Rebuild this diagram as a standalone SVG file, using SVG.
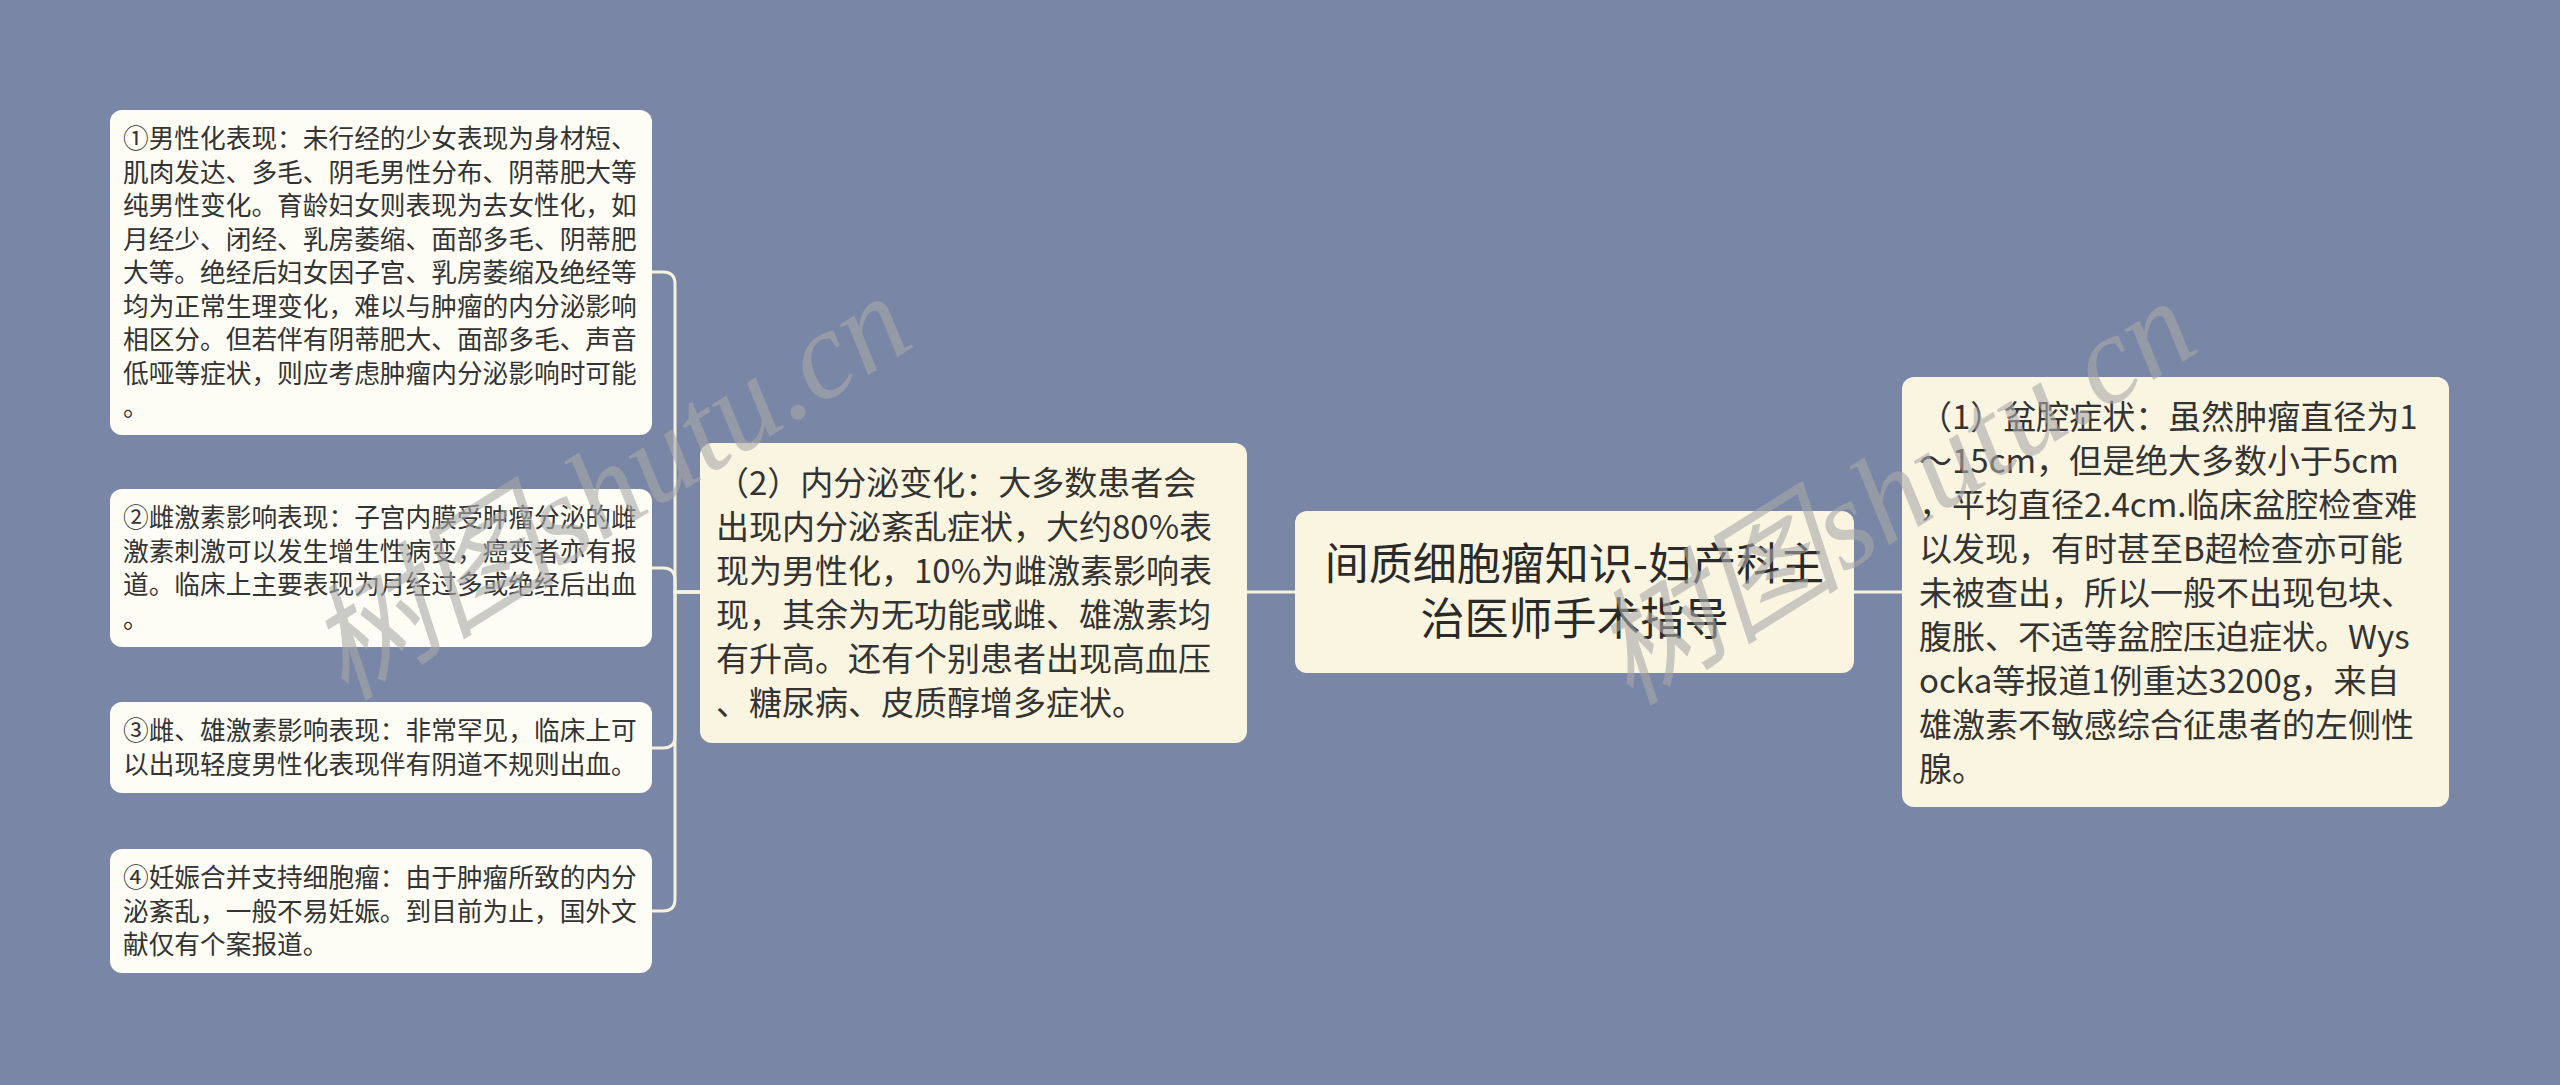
<svg xmlns="http://www.w3.org/2000/svg" width="2560" height="1085" viewBox="0 0 2560 1085">
<defs>
<style>
.bg{fill:#7986A6}
.leaf{fill:#FDFDF5}
.cream{fill:#FAF5E0}
.t{font-family:"Noto Sans CJK SC","Noto Sans",sans-serif;fill:#333333}
.s{font-size:25.7px}
.m{font-size:33px}
.r{font-size:44px;fill:#2a2a2a}
.conn{fill:none;stroke:#F6F2DE;stroke-width:3;stroke-linecap:round;stroke-linejoin:round}
.wm{font-family:"Liberation Serif","Noto Sans CJK SC",serif;font-style:italic;font-size:126px;fill:#A9A9A9;fill-opacity:0.6}
</style>
</defs>
<rect class="bg" x="0" y="0" width="2560" height="1085"/>
<g id="connectors">
<path class="conn" d="M1247 592 H1295"/>
<path class="conn" d="M1853 592 H1902"/>
<path class="conn" d="M700 592 H675 V284 Q675 272 663 272 H652"/>
<path class="conn" d="M700 592 H675 V580 Q675 568 663 568 H652"/>
<path class="conn" d="M700 592 H675 V736 Q675 748 663 748 H652"/>
<path class="conn" d="M700 592 H675 V899 Q675 911 663 911 H652"/>
</g>
<g id="root">
<rect class="cream" x="1295" y="511" width="559" height="162" rx="12"/>
<text class="t r" text-anchor="middle"><tspan x="1574.5" y="580">间质细胞瘤知识-妇产科主</tspan><tspan x="1574.5" y="635">治医师手术指导</tspan></text>
</g>
<g id="node-endocrine">
<rect class="cream" x="700" y="443" width="547" height="300" rx="12"/>
<text class="t m"><tspan x="716" y="495">（2）内分泌变化：大多数患者会</tspan><tspan x="716" y="539">出现内分泌紊乱症状，大约80%表</tspan><tspan x="716" y="583">现为男性化，10%为雌激素影响表</tspan><tspan x="716" y="627">现，其余为无功能或雌、雄激素均</tspan><tspan x="716" y="671">有升高。还有个别患者出现高血压</tspan><tspan x="716" y="715">、糖尿病、皮质醇增多症状。</tspan></text>
</g>
<g id="node-pelvic">
<rect class="cream" x="1902" y="377" width="547" height="430" rx="12"/>
<text class="t m"><tspan x="1919" y="429">（1）盆腔症状：虽然肿瘤直径为1</tspan><tspan x="1919" y="473">～15cm，但是绝大多数小于5cm</tspan><tspan x="1919" y="517">，平均直径2.4cm.临床盆腔检查难</tspan><tspan x="1919" y="561">以发现，有时甚至B超检查亦可能</tspan><tspan x="1919" y="605">未被查出，所以一般不出现包块、</tspan><tspan x="1919" y="649">腹胀、不适等盆腔压迫症状。Wys</tspan><tspan x="1919" y="693">ocka等报道1例重达3200g，来自</tspan><tspan x="1919" y="737">雄激素不敏感综合征患者的左侧性</tspan><tspan x="1919" y="781">腺。</tspan></text>
</g>
<g id="node-male">
<rect class="leaf" x="110" y="110" width="542" height="325" rx="12"/>
<text class="t s"><tspan x="123" y="148">①男性化表现：未行经的少女表现为身材短、</tspan><tspan x="123" y="181.5">肌肉发达、多毛、阴毛男性分布、阴蒂肥大等</tspan><tspan x="123" y="215">纯男性变化。育龄妇女则表现为去女性化，如</tspan><tspan x="123" y="248.5">月经少、闭经、乳房萎缩、面部多毛、阴蒂肥</tspan><tspan x="123" y="282">大等。绝经后妇女因子宫、乳房萎缩及绝经等</tspan><tspan x="123" y="315.5">均为正常生理变化，难以与肿瘤的内分泌影响</tspan><tspan x="123" y="349">相区分。但若伴有阴蒂肥大、面部多毛、声音</tspan><tspan x="123" y="382.5">低哑等症状，则应考虑肿瘤内分泌影响时可能</tspan><tspan x="123" y="416">。</tspan></text>
</g>
<g id="node-estrogen">
<rect class="leaf" x="110" y="489" width="542" height="158" rx="12"/>
<text class="t s"><tspan x="123" y="527">②雌激素影响表现：子宫内膜受肿瘤分泌的雌</tspan><tspan x="123" y="560.5">激素刺激可以发生增生性病变，癌变者亦有报</tspan><tspan x="123" y="594">道。临床上主要表现为月经过多或绝经后出血</tspan><tspan x="123" y="627.5">。</tspan></text>
</g>
<g id="node-both">
<rect class="leaf" x="110" y="702" width="542" height="91" rx="12"/>
<text class="t s"><tspan x="123" y="740">③雌、雄激素影响表现：非常罕见，临床上可</tspan><tspan x="123" y="773.5">以出现轻度男性化表现伴有阴道不规则出血。</tspan></text>
</g>
<g id="node-pregnancy">
<rect class="leaf" x="110" y="849" width="542" height="124" rx="12"/>
<text class="t s"><tspan x="123" y="887">④妊娠合并支持细胞瘤：由于肿瘤所致的内分</tspan><tspan x="123" y="920.5">泌紊乱，一般不易妊娠。到目前为止，国外文</tspan><tspan x="123" y="954">献仅有个案报道。</tspan></text>
</g>
<g id="watermark">
<text class="wm" transform="translate(345 702) rotate(-32)">树图shutu.cn</text>
<text class="wm" transform="translate(1630 707) rotate(-32)">树图shutu.cn</text>
</g>
</svg>
